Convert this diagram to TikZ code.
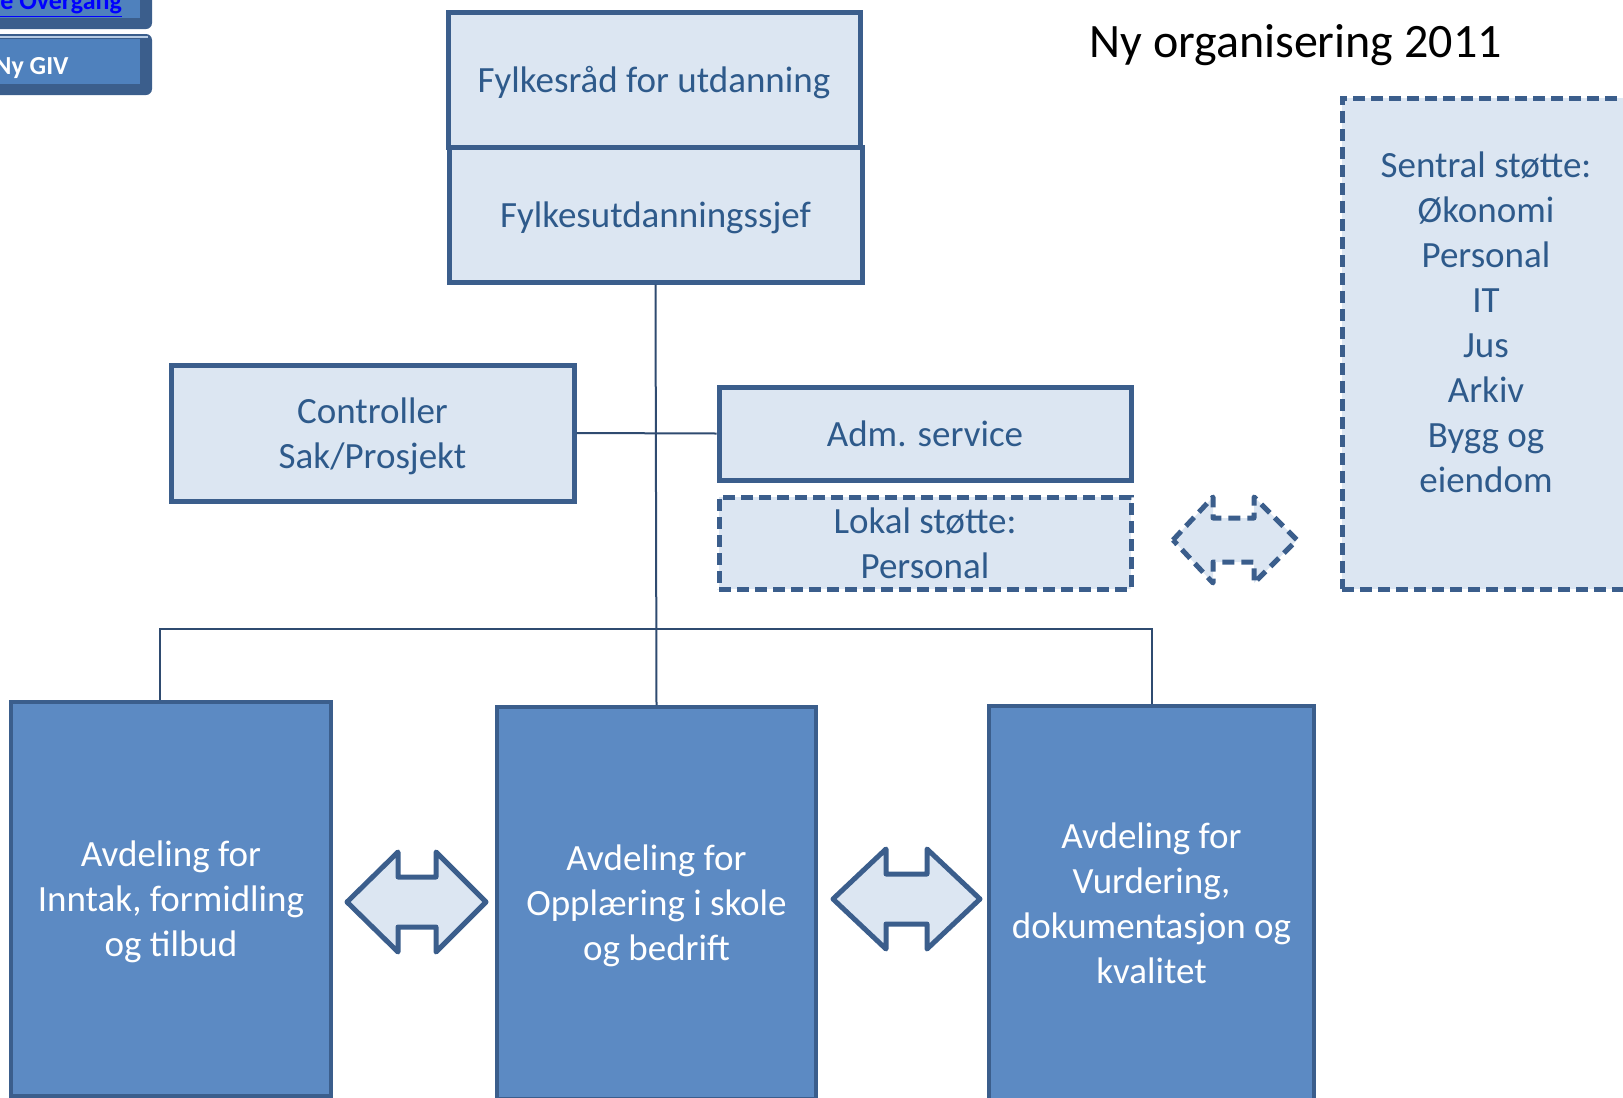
\documentclass[tikz,border=0pt]{standalone}
\usepackage{fontspec}
\setmainfont{Carlito}
\definecolor{rimblue}{HTML}{3B5E8C}
\definecolor{paleblue}{HTML}{DCE6F2}
\definecolor{deepblue}{HTML}{5C8AC3}
\definecolor{inkblue}{HTML}{2E5A8B}
\definecolor{linkblue}{HTML}{0000FF}
\definecolor{btnblue}{HTML}{4F81BD}
\tikzset{
  lightbox/.style={draw=rimblue, line width=2.5pt, fill=paleblue, text=inkblue, align=center,
    font=\fontsize{18.5}{22.5}\selectfont, inner sep=0pt, text depth=0pt},
  dashbox/.style={lightbox, line width=2.5pt, dash pattern=on 6pt off 3pt},
  darkbox/.style={draw=rimblue, line width=2pt, fill=deepblue, text=white, align=center,
    font=\fontsize{18.5}{22.5}\selectfont, inner sep=0pt, text depth=-4pt},
  wire/.style={draw=rimblue!80!black, line width=1pt},
  fatarrow/.style={draw=rimblue, line width=2.5pt, fill=paleblue, line join=round}
}
\begin{document}
\begin{tikzpicture}[x=0.5pt,y=-0.5pt]
            \useasboundingbox (0,0) rectangle (1623,1098);
            \clip (0,0) rectangle (1623,1098);
            % menu buttons, cut at the slide edge
            \fill[rimblue, rounded corners=3pt] (-40,-40) rectangle (152,29);
            \fill[btnblue] (-40,-40) rectangle (140,18);
            \node[anchor=base east, text=linkblue, font=\fontsize{13}{15}\selectfont\bfseries] (overgang) at (129,9) {\underline{e Overgang}};
            \fill[rimblue, rounded corners=3pt] (-40,34) rectangle (152,95);
            \fill[btnblue] (-40,39) rectangle (140,84);
            \draw[white!60!btnblue, line width=1pt] (-40,37) -- (148,37);
            \node[anchor=west, text=white, font=\fontsize{13}{15}\selectfont\bfseries, inner sep=0pt] (nygiv) at (-6,68) {Ny GIV};
            % title
            \node[anchor=base west, inner sep=0pt, font=\fontsize{24}{29}\selectfont] (title) at (1089,57) {Ny organisering 2011};
            % top of the chart
            \node[lightbox, minimum width=206pt, minimum height=67.5pt] (rad) at (654,79.5) {Fylkesråd for utdanning};
            \node[lightbox, minimum width=206.5pt, minimum height=67.5pt] (sjef) at (655.5,214.5) {Fylkesutdanningssjef};
            \node[lightbox, minimum width=201.5pt, minimum height=68pt] (ctrl) at (372.5,433) {Controller\\Sak/Prosjekt};
            \node[lightbox, minimum width=206pt, minimum height=46.5pt] (adm) at (925,433.5) {Adm. service};
            \node[dashbox, minimum width=206pt, minimum height=46pt] (lokal) at (925,543) {Lokal støtte:\\Personal};
            % central support, partly off the slide
            \node[dashbox, minimum width=144pt, minimum height=245.5pt] (sentral) at (1486,343.5) {};
            \node[align=center, text=inkblue, font=\fontsize{18.5}{22.5}\selectfont, inner sep=0pt] (sentraltxt) at (1486,322)
              {Sentral støtte:\\Økonomi\\Personal\\IT\\Jus\\Arkiv\\Bygg og\\eiendom};
            % departments
            \node[darkbox, minimum width=160pt, minimum height=197pt] (inntak) at (171,899) {Avdeling for\\Inntak, formidling\\og tilbud};
            \node[darkbox, minimum width=159.5pt, minimum height=196pt] (opplaering) at (656.5,903) {Avdeling for\\Opplæring i skole\\og bedrift};
            \node[darkbox, minimum width=162.5pt, minimum height=197pt] (vurdering) at (1151.5,903) {Avdeling for\\Vurdering,\\dokumentasjon og\\kvalitet};
            % lines
            \coordinate (busL) at (160,629);
            \coordinate (busR) at (1152,629);
            \draw[wire] (sjef.south) -- (opplaering.north);
            \draw[wire] (ctrl.east) -- (adm.west);
            \draw[wire] (busL |- inntak.north) -- (busL) -- (busR) -- (busR |- vurdering.north);
            % double arrows between the departments
            \draw[fatarrow] (347,902) -- (398,852) -- (398,877) -- (436,877) -- (436,852) -- (486,902)
              -- (436,952) -- (436,927) -- (398,927) -- (398,952) -- cycle;
            \draw[fatarrow] (833,899) -- (886,849) -- (886,874) -- (927,874) -- (927,849) -- (980,899)
              -- (927,949) -- (927,924) -- (886,924) -- (886,949) -- cycle;
            % dashed arrow to central support
            \draw[fatarrow, dash pattern=on 6pt off 3.5pt] (1173,540) -- (1213,497) -- (1213,518) -- (1254,518) -- (1254,497) -- (1297,540)
              -- (1254,583) -- (1254,562) -- (1213,562) -- (1213,583) -- cycle;
        \end{tikzpicture}
\end{document}
